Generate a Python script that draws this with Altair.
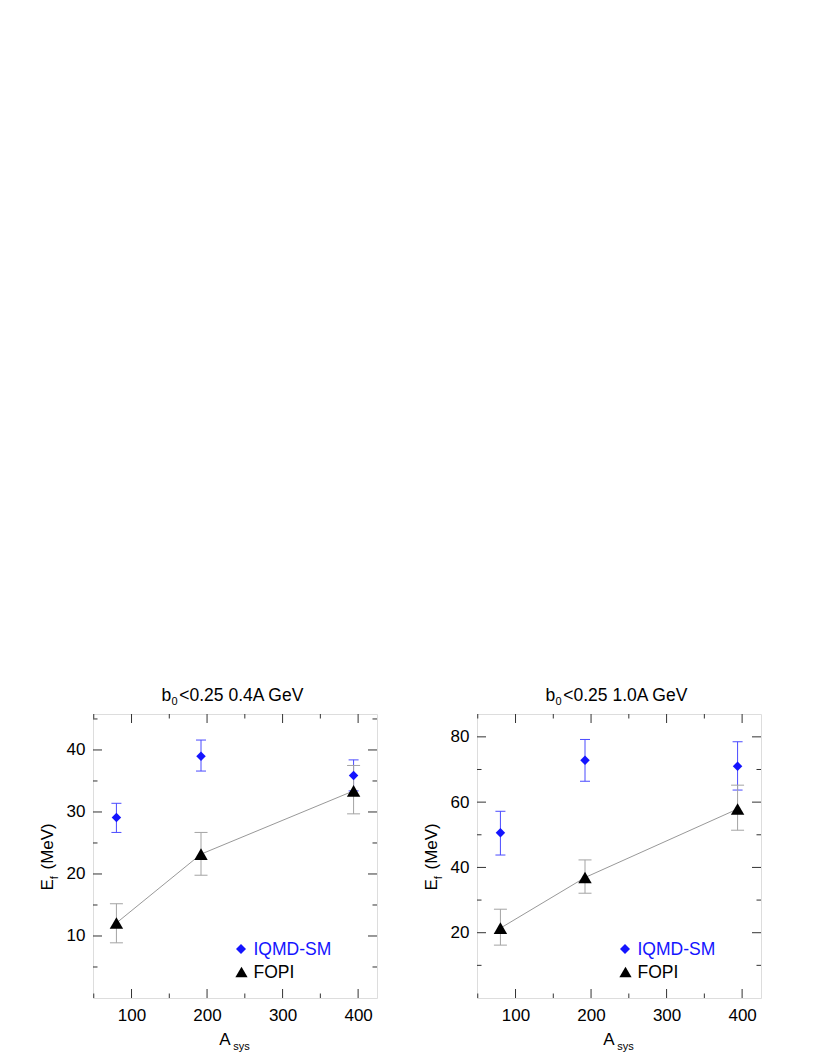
import altair as alt
import pandas as pd

# ---------------- data ----------------
A_SYS = [80, 192, 394]
SERIES = ["IQMD-SM", "FOPI"]

# b0<0.25, 0.4A GeV
IQMD_04 = [29.1, 39.0, 35.9]
IQMD_04_HI = [31.4, 41.6, 38.4]
IQMD_04_LO = [26.7, 36.6, 33.4]
FOPI_04 = [12.1, 23.2, 33.4]
FOPI_04_HI = [15.2, 26.7, 37.5]
FOPI_04_LO = [8.9, 19.8, 29.7]

# b0<0.25, 1.0A GeV
IQMD_10 = [50.6, 72.8, 71.0]
IQMD_10_HI = [57.2, 79.2, 78.5]
IQMD_10_LO = [43.8, 66.4, 63.7]
FOPI_10 = [21.4, 36.9, 57.9]
FOPI_10_HI = [27.2, 42.3, 65.2]
FOPI_10_LO = [16.2, 32.1, 51.4]

X_DOMAIN = [49, 425]
X_MAJOR = [100, 200, 300, 400]
X_MINOR = [50, 150, 250, 350]
Y_DOMAIN_04 = [0, 45.8]
Y_MAJOR_04 = [10, 20, 30, 40]
Y_MINOR_04 = [5, 15, 25, 35, 45]
Y_DOMAIN_10 = [0, 87]
Y_MAJOR_10 = [20, 40, 60, 80]
Y_MINOR_10 = [10, 30, 50, 70]

TITLE_MAIN = "b"
TITLE_SUB = "0"
TITLE_REST = ["<0.25 0.4A GeV", "<0.25 1.0A GeV"]
Y_TITLE = ["E", "f", "(MeV)"]
X_TITLE = ["A", "sys"]

# ---------------- style ----------------
W = H = 284
FONT = "Liberation Sans"
FS = 17
FS_T = 17.5
FS_SUB = 11
BLUE = "#1414ff"
BLUE_ERR = "#4a4aff"
GRAY_ERR = "#a3a3a3"
LINE_GRAY = "#8c8c8c"
TICK_COLOR = "#333333"
MAJ_LEN = 9
MIN_LEN = 4.5


def panel(rest_title, iq, iq_hi, iq_lo, fo, fo_hi, fo_lo, ydom, ymaj, ymin):
    df = pd.DataFrame({
        "A": A_SYS * 2,
        "E": iq + fo,
        "hi": iq_hi + fo_hi,
        "lo": iq_lo + fo_lo,
        "series": [SERIES[0]] * 3 + [SERIES[1]] * 3,
    })
    xs = alt.Scale(domain=X_DOMAIN, nice=False, zero=False)
    ys = alt.Scale(domain=ydom, nice=False, zero=False)
    xax = alt.Axis(values=X_MAJOR, ticks=False, domain=False, grid=False,
                   labelPadding=9, title=None, labelFontSize=FS, labelFont=FONT,
                   labelColor="black", tickSize=0)
    yax = alt.Axis(values=ymaj, ticks=False, domain=False, grid=False,
                   labelPadding=8, title=None, labelFontSize=FS, labelFont=FONT,
                   labelColor="black", tickSize=0)

    def X(f):
        return alt.X(f, type="quantitative", scale=xs, axis=xax)

    def Y(f):
        return alt.Y(f, type="quantitative", scale=ys, axis=yax)

    base = alt.Chart(df)
    iq_b = base.transform_filter(alt.datum.series == SERIES[0])
    fo_b = base.transform_filter(alt.datum.series == SERIES[1])

    layers = []
    # error bars
    layers.append(iq_b.mark_rule(color=BLUE_ERR, strokeWidth=1).encode(x=X("A"), y=Y("lo"), y2="hi"))
    for f in ["lo", "hi"]:
        layers.append(iq_b.mark_tick(orient="horizontal", size=10, thickness=1, color=BLUE_ERR, opacity=1)
                      .encode(x=X("A"), y=Y(f)))
    layers.append(fo_b.mark_rule(color=GRAY_ERR, strokeWidth=1).encode(x=X("A"), y=Y("lo"), y2="hi"))
    for f in ["lo", "hi"]:
        layers.append(fo_b.mark_tick(orient="horizontal", size=13, thickness=1, color=GRAY_ERR, opacity=1)
                      .encode(x=X("A"), y=Y(f)))
    # connecting line
    layers.append(fo_b.mark_line(color=LINE_GRAY, strokeWidth=0.9).encode(x=X("A"), y=Y("E")))
    # points
    layers.append(iq_b.mark_point(shape="diamond", filled=True, size=90, color=BLUE, opacity=1)
                  .encode(x=X("A"), y=Y("E")))
    layers.append(fo_b.mark_point(shape="triangle-up", filled=True, size=180, color="black", opacity=1)
                  .encode(x=X("A"), y=Y("E")))

    # inward ticks on all four sides
    for vals, ln in [(ymaj, MAJ_LEN), (ymin, MIN_LEN)]:
        tdf = pd.DataFrame({"v": vals})
        layers.append(alt.Chart(tdf).mark_rule(color=TICK_COLOR, strokeWidth=1)
                      .encode(y=Y("v"), x=alt.value(0), x2=alt.value(ln)))
        layers.append(alt.Chart(tdf).mark_rule(color=TICK_COLOR, strokeWidth=1)
                      .encode(y=Y("v"), x=alt.value(W - ln), x2=alt.value(W)))
    for vals, ln in [(X_MAJOR, MAJ_LEN), (X_MINOR, MIN_LEN)]:
        tdf = pd.DataFrame({"v": vals})
        layers.append(alt.Chart(tdf).mark_rule(color=TICK_COLOR, strokeWidth=1)
                      .encode(x=X("v"), y=alt.value(H - ln), y2=alt.value(H)))
        layers.append(alt.Chart(tdf).mark_rule(color=TICK_COLOR, strokeWidth=1)
                      .encode(x=X("v"), y=alt.value(0), y2=alt.value(ln)))

    # legend
    leg = pd.DataFrame({"label": SERIES})
    lb = alt.Chart(leg)
    layers.append(lb.transform_filter(alt.datum.label == SERIES[0])
                  .mark_point(shape="diamond", filled=True, size=100, color=BLUE, opacity=1)
                  .encode(x=alt.value(148), y=alt.value(235)))
    layers.append(lb.transform_filter(alt.datum.label == SERIES[1])
                  .mark_point(shape="triangle-up", filled=True, size=150, color="black", opacity=1)
                  .encode(x=alt.value(148.5), y=alt.value(258)))
    layers.append(lb.transform_filter(alt.datum.label == SERIES[0])
                  .mark_text(align="left", baseline="alphabetic", font=FONT, fontSize=FS_T, color=BLUE)
                  .encode(text="label:N", x=alt.value(160.5), y=alt.value(240.7)))
    layers.append(lb.transform_filter(alt.datum.label == SERIES[1])
                  .mark_text(align="left", baseline="alphabetic", font=FONT, fontSize=FS_T, color="black")
                  .encode(text="label:N", x=alt.value(160.5), y=alt.value(264)))

    # title with subscript
    tdf = pd.DataFrame({"main": [TITLE_MAIN], "sub": [TITLE_SUB], "rest": [rest_title]})
    tb = alt.Chart(tdf)
    layers.append(tb.mark_text(align="left", baseline="alphabetic", font=FONT, fontSize=FS_T, color="black")
                  .encode(text="main:N", x=alt.value(68.5), y=alt.value(-13.3)))
    layers.append(tb.mark_text(align="left", baseline="alphabetic", font=FONT, fontSize=FS_SUB, color="black")
                  .encode(text="sub:N", x=alt.value(78.5), y=alt.value(-8.6)))
    layers.append(tb.mark_text(align="left", baseline="alphabetic", font=FONT, fontSize=FS_T, color="black")
                  .encode(text="rest:N", x=alt.value(86.3), y=alt.value(-13.3)))

    # y-axis title  E_f (MeV)
    ydf = pd.DataFrame({"a": [Y_TITLE[0]], "b": [Y_TITLE[1]], "c": [Y_TITLE[2]]})
    yb = alt.Chart(ydf)
    layers.append(yb.mark_text(align="left", baseline="alphabetic", angle=270, font=FONT, fontSize=FS, color="black")
                  .encode(text="a:N", x=alt.value(-39.7), y=alt.value(176.5)))
    layers.append(yb.mark_text(align="left", baseline="alphabetic", angle=270, font=FONT, fontSize=FS_SUB, color="black")
                  .encode(text="b:N", x=alt.value(-35.5), y=alt.value(165.2)))
    layers.append(yb.mark_text(align="left", baseline="alphabetic", angle=270, font=FONT, fontSize=FS, color="black")
                  .encode(text="c:N", x=alt.value(-39.7), y=alt.value(155.5)))

    # x-axis title  A_sys
    xdf = pd.DataFrame({"a": [X_TITLE[0]], "b": [X_TITLE[1]]})
    xb = alt.Chart(xdf)
    layers.append(xb.mark_text(align="left", baseline="alphabetic", font=FONT, fontSize=FS, color="black")
                  .encode(text="a:N", x=alt.value(126.3), y=alt.value(330.7)))
    layers.append(xb.mark_text(align="left", baseline="alphabetic", font=FONT, fontSize=FS_SUB, color="black")
                  .encode(text="b:N", x=alt.value(140.3), y=alt.value(335.7)))

    return alt.layer(*layers).properties(width=W, height=H)


left = panel(TITLE_REST[0], IQMD_04, IQMD_04_HI, IQMD_04_LO, FOPI_04, FOPI_04_HI, FOPI_04_LO,
             Y_DOMAIN_04, Y_MAJOR_04, Y_MINOR_04)
right = panel(TITLE_REST[1], IQMD_10, IQMD_10_HI, IQMD_10_LO, FOPI_10, FOPI_10_HI, FOPI_10_LO,
              Y_DOMAIN_10, Y_MAJOR_10, Y_MINOR_10)

chart = (
    alt.hconcat(left, right, spacing=100, bounds="flush")
    .properties(padding={"left": 30, "top": 678, "right": 5, "bottom": 5})
    .configure_view(stroke="black", strokeWidth=1)
    .configure(background="white")
)

chart.save("out.html", embed_options={"renderer": "svg", "actions": False})
